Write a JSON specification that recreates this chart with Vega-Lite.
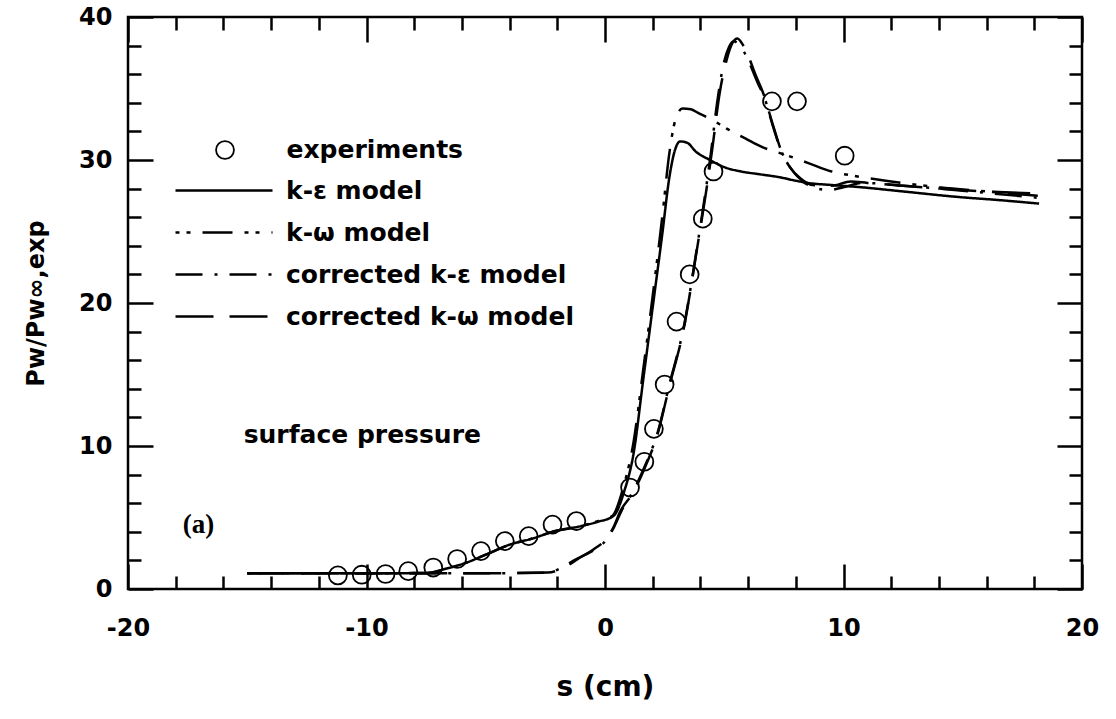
{
  "$schema": "https://vega.github.io/schema/vega-lite/v6.json",
  "width": 954,
  "height": 572,
  "autosize": {"type": "none"},
  "padding": {"left": 128, "top": 17, "right": 34, "bottom": 130},
  "background": "white",
  "config": {
    "view": {"stroke": "black", "strokeWidth": 2.5},
    "axis": {
      "domain": false, "grid": false, "tickColor": "black", "tickWidth": 2.5,
      "labelFont": "DejaVu Sans", "labelFontWeight": "bold", "labelFontSize": 24, "labelColor": "black",
      "labelFlush": false, "labelOverlap": false, "labelBound": false,
      "titleFont": "DejaVu Sans", "titleFontWeight": "bold", "titleColor": "black"
    }
  },
  "datasets": {
    "curves": [
      {"m": "k-ε model", "s": -15, "P": 1.1}, {"m": "k-ε model", "s": -10, "P": 1.1}, {"m": "k-ε model", "s": -7.5, "P": 1.12},
      {"m": "k-ε model", "s": -6.6, "P": 1.45}, {"m": "k-ε model", "s": -5.8, "P": 1.85}, {"m": "k-ε model", "s": -5.0, "P": 2.4},
      {"m": "k-ε model", "s": -4.0, "P": 3.1}, {"m": "k-ε model", "s": -3.0, "P": 3.55}, {"m": "k-ε model", "s": -2.2, "P": 4.0},
      {"m": "k-ε model", "s": -1.0, "P": 4.4}, {"m": "k-ε model", "s": -0.3, "P": 4.7}, {"m": "k-ε model", "s": 0.35, "P": 5.1},
      {"m": "k-ε model", "s": 0.8, "P": 6.8}, {"m": "k-ε model", "s": 1.2, "P": 9.5}, {"m": "k-ε model", "s": 1.6, "P": 14.6},
      {"m": "k-ε model", "s": 2.0, "P": 19.7}, {"m": "k-ε model", "s": 2.4, "P": 24.8}, {"m": "k-ε model", "s": 2.7, "P": 28.8},
      {"m": "k-ε model", "s": 2.9, "P": 30.5}, {"m": "k-ε model", "s": 3.15, "P": 31.3}, {"m": "k-ε model", "s": 3.45, "P": 31.2},
      {"m": "k-ε model", "s": 3.8, "P": 30.6}, {"m": "k-ε model", "s": 4.4, "P": 30.0}, {"m": "k-ε model", "s": 5.0, "P": 29.5},
      {"m": "k-ε model", "s": 5.7, "P": 29.2}, {"m": "k-ε model", "s": 6.5, "P": 29.0}, {"m": "k-ε model", "s": 7.3, "P": 28.8},
      {"m": "k-ε model", "s": 8.0, "P": 28.55}, {"m": "k-ε model", "s": 8.5, "P": 28.4}, {"m": "k-ε model", "s": 9.5, "P": 28.25},
      {"m": "k-ε model", "s": 10.7, "P": 28.1}, {"m": "k-ε model", "s": 12.5, "P": 27.8}, {"m": "k-ε model", "s": 14.9, "P": 27.4},
      {"m": "k-ε model", "s": 16.5, "P": 27.2}, {"m": "k-ε model", "s": 18.2, "P": 26.95},

      {"m": "k-ω model", "s": -15, "P": 1.1}, {"m": "k-ω model", "s": -10, "P": 1.1}, {"m": "k-ω model", "s": -7.5, "P": 1.12},
      {"m": "k-ω model", "s": -6.6, "P": 1.45}, {"m": "k-ω model", "s": -5.8, "P": 1.85}, {"m": "k-ω model", "s": -5.0, "P": 2.4},
      {"m": "k-ω model", "s": -4.0, "P": 3.1}, {"m": "k-ω model", "s": -3.0, "P": 3.55}, {"m": "k-ω model", "s": -2.2, "P": 4.0},
      {"m": "k-ω model", "s": -1.0, "P": 4.4}, {"m": "k-ω model", "s": -0.3, "P": 4.75}, {"m": "k-ω model", "s": 0.3, "P": 5.1},
      {"m": "k-ω model", "s": 0.8, "P": 7.3}, {"m": "k-ω model", "s": 1.2, "P": 10.3}, {"m": "k-ω model", "s": 1.6, "P": 15.3},
      {"m": "k-ω model", "s": 2.0, "P": 20.5}, {"m": "k-ω model", "s": 2.4, "P": 26.0}, {"m": "k-ω model", "s": 2.7, "P": 30.5},
      {"m": "k-ω model", "s": 2.95, "P": 32.8}, {"m": "k-ω model", "s": 3.25, "P": 33.6}, {"m": "k-ω model", "s": 3.6, "P": 33.55},
      {"m": "k-ω model", "s": 3.9, "P": 33.3}, {"m": "k-ω model", "s": 4.5, "P": 32.8}, {"m": "k-ω model", "s": 5.1, "P": 32.2},
      {"m": "k-ω model", "s": 5.9, "P": 31.5}, {"m": "k-ω model", "s": 6.6, "P": 30.9}, {"m": "k-ω model", "s": 7.5, "P": 30.4},
      {"m": "k-ω model", "s": 8.5, "P": 29.8}, {"m": "k-ω model", "s": 9.5, "P": 29.2}, {"m": "k-ω model", "s": 10.4, "P": 28.9},
      {"m": "k-ω model", "s": 12.0, "P": 28.5}, {"m": "k-ω model", "s": 14.0, "P": 28.1}, {"m": "k-ω model", "s": 16.0, "P": 27.8},
      {"m": "k-ω model", "s": 18.2, "P": 27.5},

      {"m": "corrected k-ε model", "s": -15, "P": 1.1}, {"m": "corrected k-ε model", "s": -10, "P": 1.1}, {"m": "corrected k-ε model", "s": -5, "P": 1.1},
      {"m": "corrected k-ε model", "s": -2.4, "P": 1.15}, {"m": "corrected k-ε model", "s": -1.8, "P": 1.5}, {"m": "corrected k-ε model", "s": -1.3, "P": 2.0},
      {"m": "corrected k-ε model", "s": -0.6, "P": 2.6}, {"m": "corrected k-ε model", "s": -0.07, "P": 3.2}, {"m": "corrected k-ε model", "s": 0.4, "P": 4.4},
      {"m": "corrected k-ε model", "s": 0.7, "P": 5.5}, {"m": "corrected k-ε model", "s": 1.2, "P": 6.9}, {"m": "corrected k-ε model", "s": 1.7, "P": 8.7},
      {"m": "corrected k-ε model", "s": 2.2, "P": 10.9}, {"m": "corrected k-ε model", "s": 2.7, "P": 14.3}, {"m": "corrected k-ε model", "s": 3.3, "P": 18.3},
      {"m": "corrected k-ε model", "s": 3.85, "P": 23.8}, {"m": "corrected k-ε model", "s": 4.2, "P": 27.6}, {"m": "corrected k-ε model", "s": 4.45, "P": 30.6},
      {"m": "corrected k-ε model", "s": 4.7, "P": 34.0}, {"m": "corrected k-ε model", "s": 5.0, "P": 36.9}, {"m": "corrected k-ε model", "s": 5.2, "P": 37.9},
      {"m": "corrected k-ε model", "s": 5.4, "P": 38.3}, {"m": "corrected k-ε model", "s": 5.6, "P": 38.1}, {"m": "corrected k-ε model", "s": 5.85, "P": 37.5},
      {"m": "corrected k-ε model", "s": 6.1, "P": 36.6}, {"m": "corrected k-ε model", "s": 6.4, "P": 35.4}, {"m": "corrected k-ε model", "s": 6.7, "P": 34.3},
      {"m": "corrected k-ε model", "s": 7.0, "P": 32.6}, {"m": "corrected k-ε model", "s": 7.4, "P": 30.6}, {"m": "corrected k-ε model", "s": 7.8, "P": 29.4},
      {"m": "corrected k-ε model", "s": 8.3, "P": 28.5}, {"m": "corrected k-ε model", "s": 8.8, "P": 28.05}, {"m": "corrected k-ε model", "s": 9.4, "P": 27.9},
      {"m": "corrected k-ε model", "s": 10.0, "P": 28.1}, {"m": "corrected k-ε model", "s": 10.8, "P": 28.4}, {"m": "corrected k-ε model", "s": 12.5, "P": 28.2},
      {"m": "corrected k-ε model", "s": 14.0, "P": 28.0}, {"m": "corrected k-ε model", "s": 16.0, "P": 27.7}, {"m": "corrected k-ε model", "s": 18.2, "P": 27.35},

      {"m": "corrected k-ω model", "s": -15, "P": 1.1}, {"m": "corrected k-ω model", "s": -10, "P": 1.1}, {"m": "corrected k-ω model", "s": -5, "P": 1.1},
      {"m": "corrected k-ω model", "s": -2.4, "P": 1.15}, {"m": "corrected k-ω model", "s": -1.6, "P": 1.6}, {"m": "corrected k-ω model", "s": -1.05, "P": 2.2},
      {"m": "corrected k-ω model", "s": -0.5, "P": 2.75}, {"m": "corrected k-ω model", "s": 0.07, "P": 3.55}, {"m": "corrected k-ω model", "s": 0.35, "P": 4.3},
      {"m": "corrected k-ω model", "s": 0.63, "P": 5.4}, {"m": "corrected k-ω model", "s": 1.2, "P": 6.8}, {"m": "corrected k-ω model", "s": 1.7, "P": 8.6},
      {"m": "corrected k-ω model", "s": 2.2, "P": 10.8}, {"m": "corrected k-ω model", "s": 2.7, "P": 14.2}, {"m": "corrected k-ω model", "s": 3.3, "P": 18.2},
      {"m": "corrected k-ω model", "s": 3.85, "P": 23.7}, {"m": "corrected k-ω model", "s": 4.25, "P": 27.9}, {"m": "corrected k-ω model", "s": 4.5, "P": 30.8},
      {"m": "corrected k-ω model", "s": 4.8, "P": 34.6}, {"m": "corrected k-ω model", "s": 5.1, "P": 37.0}, {"m": "corrected k-ω model", "s": 5.35, "P": 38.2},
      {"m": "corrected k-ω model", "s": 5.55, "P": 38.5}, {"m": "corrected k-ω model", "s": 5.8, "P": 38.0}, {"m": "corrected k-ω model", "s": 6.0, "P": 37.3},
      {"m": "corrected k-ω model", "s": 6.35, "P": 35.8}, {"m": "corrected k-ω model", "s": 6.65, "P": 34.6}, {"m": "corrected k-ω model", "s": 7.05, "P": 32.4},
      {"m": "corrected k-ω model", "s": 7.4, "P": 30.6}, {"m": "corrected k-ω model", "s": 7.75, "P": 29.5}, {"m": "corrected k-ω model", "s": 8.2, "P": 28.7},
      {"m": "corrected k-ω model", "s": 8.7, "P": 28.25}, {"m": "corrected k-ω model", "s": 9.5, "P": 28.2}, {"m": "corrected k-ω model", "s": 10.3, "P": 28.5},
      {"m": "corrected k-ω model", "s": 11.0, "P": 28.4}, {"m": "corrected k-ω model", "s": 12.5, "P": 28.2}, {"m": "corrected k-ω model", "s": 14.0, "P": 28.0},
      {"m": "corrected k-ω model", "s": 16.0, "P": 27.8}, {"m": "corrected k-ω model", "s": 18.2, "P": 27.65}
    ],
    "exp": [
      {"s": -11.2, "P": 0.95}, {"s": -10.2, "P": 1.0}, {"s": -9.2, "P": 1.05}, {"s": -8.25, "P": 1.25},
      {"s": -7.2, "P": 1.5}, {"s": -6.2, "P": 2.1}, {"s": -5.2, "P": 2.65}, {"s": -4.2, "P": 3.35},
      {"s": -3.2, "P": 3.7}, {"s": -2.2, "P": 4.5}, {"s": -1.2, "P": 4.75}, {"s": 1.05, "P": 7.1},
      {"s": 1.65, "P": 8.9}, {"s": 2.05, "P": 11.2}, {"s": 2.5, "P": 14.3}, {"s": 3.0, "P": 18.7},
      {"s": 3.55, "P": 22.0}, {"s": 4.1, "P": 25.9}, {"s": 4.55, "P": 29.2}, {"s": 7.0, "P": 34.1},
      {"s": 8.05, "P": 34.1}, {"s": 10.05, "P": 30.3}
    ]
  },
  "layer": [
    {
      "data": {"name": "curves"},
      "mark": {"type": "line", "color": "black", "strokeWidth": 2.5, "interpolate": "monotone"},
      "encoding": {
        "x": {"field": "s", "type": "quantitative",
          "scale": {"domain": [-20, 20], "nice": false, "zero": false},
          "axis": {"orient": "bottom", "values": [-20, -10, 0, 10, 20], "tickSize": -25, "labelPadding": 52,
            "labelExpr": "'' + datum.value",
            "title": "s (cm)", "titleFontSize": 28, "titlePadding": 33}},
        "y": {"field": "P", "type": "quantitative",
          "scale": {"domain": [0, 40], "nice": false, "zero": false},
          "axis": {"orient": "left", "values": [0, 10, 20, 30, 40], "tickSize": -25, "labelPadding": 41,
            "title": "Pw/Pw∞,exp", "titleFontSize": 24, "titlePadding": 30}},
        "strokeDash": {"field": "m", "type": "nominal",
          "sort": ["k-ε model", "k-ω model", "corrected k-ε model", "corrected k-ω model"],
          "scale": {"domain": ["k-ε model", "k-ω model", "corrected k-ε model", "corrected k-ω model"],
            "range": [[1, 0], [4, 7, 4, 12, 30, 12], [27, 12, 3, 12], [38, 16]]},
          "legend": {"orient": "none", "legendX": 46, "legendY": 161, "title": null, "padding": 0,
            "symbolType": "stroke", "symbolSize": 9409, "symbolStrokeWidth": 2.5, "symbolStrokeColor": "black",
            "clipHeight": 25,
            "labelFont": "DejaVu Sans", "labelFontWeight": "bold", "labelFontSize": 25, "labelColor": "black",
            "labelOffset": 12, "rowPadding": 16, "labelLimit": 0}}
      }
    },
    {
      "data": {"name": "exp"},
      "mark": {"type": "point", "filled": false, "color": "black", "opacity": 1, "size": 320, "strokeWidth": 1.8},
      "encoding": {
        "x": {"field": "s", "type": "quantitative",
          "axis": {"orient": "top", "values": [-20, -10, 0, 10, 20], "tickSize": -25, "labels": false, "title": null}},
        "y": {"field": "P", "type": "quantitative",
          "axis": {"orient": "right", "values": [0, 10, 20, 30, 40], "tickSize": -25, "labels": false, "title": null}},
        "shape": {"datum": "experiments", "scale": {"range": ["circle"]},
          "legend": {"orient": "none", "legendX": 84.5, "legendY": 120.5, "title": null, "padding": 0,
            "symbolSize": 320, "symbolStrokeWidth": 1.8, "symbolStrokeColor": "black", "symbolFillColor": "transparent",
            "symbolOpacity": 1,
            "labelFont": "DejaVu Sans", "labelFontWeight": "bold", "labelFontSize": 25, "labelColor": "black",
            "labelOffset": 49, "labelLimit": 0}}
      }
    },
    {
      "data": {"values": [{"label": "surface pressure"}]},
      "mark": {"type": "text", "align": "left", "baseline": "middle",
        "font": "DejaVu Sans", "fontWeight": "bold", "fontSize": 25, "color": "black"},
      "encoding": {
        "text": {"field": "label"},
        "x": {"datum": -15.15, "type": "quantitative",
          "axis": {"orient": "bottom", "values": [-18, -16, -14, -12, -8, -6, -4, -2, 2, 4, 6, 8, 12, 14, 16, 18], "tickSize": -13, "labels": false, "title": null}},
        "y": {"datum": 10.8, "type": "quantitative",
          "axis": {"orient": "left", "values": [2, 4, 6, 8, 12, 14, 16, 18, 22, 24, 26, 28, 32, 34, 36, 38], "tickSize": -13, "labels": false, "title": null}}
      }
    },
    {
      "data": {"values": [{"label": "(a)"}]},
      "mark": {"type": "text", "align": "left", "baseline": "middle",
        "font": "Liberation Serif", "fontWeight": "bold", "fontSize": 27, "color": "black"},
      "encoding": {
        "text": {"field": "label"},
        "x": {"datum": -17.7, "type": "quantitative",
          "axis": {"orient": "top", "values": [-18, -16, -14, -12, -8, -6, -4, -2, 2, 4, 6, 8, 12, 14, 16, 18], "tickSize": -13, "labels": false, "title": null}},
        "y": {"datum": 4.5, "type": "quantitative",
          "axis": {"orient": "right", "values": [2, 4, 6, 8, 12, 14, 16, 18, 22, 24, 26, 28, 32, 34, 36, 38], "tickSize": -13, "labels": false, "title": null}}
      }
    }
  ],
  "resolve": {"axis": {"x": "independent", "y": "independent"}}
}
